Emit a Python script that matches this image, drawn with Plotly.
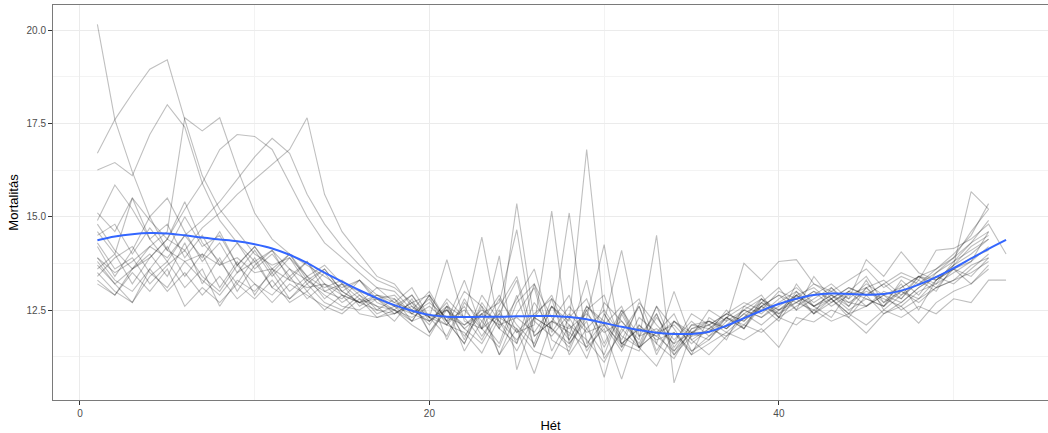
import plotly.graph_objects as go

# Weekly mortality (per 1000 per year) by week of year, one list per year
s01 = [20.15, 17.6, 16.2, 15.0, 14.1, 13.8, 14.0, 13.7, 13.9, 13.5, 13.6, 13.3, 13.1, 13.2, 12.9, 12.7, 12.8,
       12.9, 12.4, 12.8, 12.1, 12.6, 11.8, 12.5, 11.6, 12.7, 12.0, 11.5, 12.6, 12.1, 11.4, 12.3, 11.9, 11.3, 11.8,
       11.9, 12.5, 12.0, 12.8, 12.3, 13.0, 12.4, 13.1, 12.6, 13.3, 12.5, 12.9, 13.4, 13.1, 13.6, 13.4, 13.9]
s02 = [16.7, 17.6, 18.3, 18.95, 19.2, 17.6, 16.1, 15.2, 14.6, 14.0, 13.7, 13.9, 13.4, 13.1, 13.3, 12.9, 12.6,
       12.5, 12.9, 12.2, 12.7, 11.7, 12.9, 12.2, 11.4, 12.3, 12.9, 11.7, 12.5, 11.5, 12.4, 12.8, 11.6, 11.2, 12.0,
       12.1, 11.7, 12.6, 12.9, 12.3, 13.2, 12.6, 12.3, 13.0, 13.4, 12.7, 13.2, 12.5, 13.3, 13.6, 13.2, 13.7]
s03 = [16.25, 16.45, 16.1, 17.2, 18.0, 17.4, 15.9, 14.9, 14.3, 13.8, 14.1, 13.6, 13.3, 13.0, 13.2, 12.8, 12.6,
       12.2, 12.8, 11.9, 12.6, 12.0, 11.6, 12.4, 13.3, 11.5, 12.6, 12.1, 11.2, 12.4, 11.7, 12.6, 11.3, 12.2, 11.9,
       11.9, 12.3, 12.1, 12.6, 12.9, 12.5, 12.8, 13.1, 12.7, 12.6, 13.0, 12.8, 13.3, 13.0, 13.7, 14.2, 14.5]
s04 = [14.8, 14.1, 13.6, 14.2, 14.6, 17.65, 17.3, 17.65, 16.3, 15.1, 14.4, 14.0, 13.7, 13.4, 13.1, 13.3, 12.9,
       12.7, 13.1, 12.3, 11.8, 12.8, 12.0, 11.5, 12.7, 13.2, 11.7, 11.4, 12.5, 12.9, 11.6, 11.4, 12.4, 11.3, 12.0,
       12.2, 12.0, 12.5, 12.8, 12.4, 12.9, 13.1, 12.7, 13.0, 12.8, 12.6, 13.1, 13.4, 13.2, 13.8, 14.3, 14.9]
s05 = [15.1, 14.6, 15.5, 14.9, 14.4, 15.2, 15.9, 16.8, 17.2, 17.15, 16.8, 15.9, 15.0, 14.3, 13.9, 13.5, 13.1,
       13.0, 12.5, 13.0, 12.2, 13.3, 12.0, 12.8, 12.1, 11.6, 12.8, 12.3, 11.5, 12.7, 12.2, 11.6, 12.6, 11.5, 12.1,
       12.0, 12.4, 12.7, 12.5, 13.0, 12.8, 13.2, 12.9, 12.6, 13.1, 13.3, 12.9, 13.2, 13.6, 13.9, 14.6, 15.2]
s06 = [13.7, 13.2, 13.6, 13.9, 14.4, 14.1, 14.7, 15.1, 15.6, 16.0, 16.4, 16.8, 17.65, 15.6, 14.6, 14.0, 13.4,
       13.2, 12.6, 12.1, 12.8, 12.3, 11.7, 12.6, 13.4, 11.8, 12.2, 12.9, 11.4, 12.1, 12.6, 11.5, 11.9, 12.4, 11.4,
       11.7, 12.3, 12.0, 12.7, 13.1, 12.5, 13.4, 12.8, 12.4, 13.1, 12.6, 13.3, 12.9, 13.5, 13.8, 14.1, 14.4]
s07 = [13.9, 13.5, 13.8, 14.2, 13.9, 14.5, 14.9, 15.4, 16.0, 16.6, 17.1, 16.7, 15.6, 14.8, 14.2, 13.7, 13.3,
       13.1, 12.7, 12.9, 12.2, 11.6, 12.7, 12.0, 12.8, 13.6, 11.9, 12.6, 12.0, 11.3, 12.5, 11.8, 12.4, 11.4, 12.1,
       12.2, 11.9, 12.3, 12.8, 12.5, 12.7, 13.0, 12.6, 12.9, 13.1, 12.7, 13.0, 12.8, 13.3, 13.6, 13.8, 14.2]
s08 = [14.9, 15.85, 15.2, 14.4, 13.8, 14.5, 13.9, 14.6, 13.7, 14.2, 13.5, 14.0, 13.3, 13.6, 13.0, 13.3, 12.8,
       12.4, 12.7, 12.3, 12.5, 12.0, 12.4, 12.1, 12.3, 11.9, 12.6, 12.2, 16.8, 12.4, 11.6, 12.0, 11.8, 11.4, 11.9,
       12.1, 12.4, 12.2, 12.7, 12.5, 12.9, 12.6, 12.8, 13.1, 12.9, 13.2, 12.8, 13.4, 13.6, 14.0, 14.5, 15.35]
s09 = [14.2, 13.4, 14.1, 15.0, 15.5, 14.6, 13.8, 14.3, 13.5, 14.1, 13.4, 13.9, 13.2, 13.6, 13.0, 12.7, 13.1,
       12.7, 12.5, 12.2, 12.6, 12.3, 14.45, 12.0, 15.35, 12.2, 11.8, 12.4, 11.9, 12.1, 11.6, 12.0, 11.8, 12.2, 11.7,
       12.0, 12.3, 12.6, 12.4, 12.8, 13.1, 12.7, 13.0, 12.8, 13.2, 12.9, 13.1, 13.4, 13.3, 13.7, 15.67, 15.2]
s10 = [13.3, 12.9, 13.6, 14.0, 13.4, 14.3, 13.2, 13.9, 13.0, 13.7, 14.1, 13.3, 13.8, 13.0, 12.8, 13.3, 12.7,
       12.5, 12.3, 12.6, 12.2, 12.5, 12.0, 12.4, 11.9, 12.1, 15.15, 11.6, 12.3, 14.25, 11.5, 12.1, 11.7, 11.9, 11.4,
       11.8, 12.3, 12.0, 12.6, 12.2, 12.9, 12.4, 12.8, 12.3, 12.9, 12.4, 12.7, 13.1, 13.4, 13.6, 13.9, 14.1]
s11 = [13.8, 13.2, 12.7, 13.6, 14.2, 13.4, 14.0, 13.1, 13.8, 12.9, 13.6, 13.0, 13.4, 12.8, 13.2, 12.6, 12.9,
       12.6, 12.4, 12.7, 12.3, 12.1, 12.5, 12.2, 11.7, 12.3, 12.0, 15.1, 11.6, 12.2, 14.1, 11.8, 12.0, 11.6, 11.9,
       11.7, 12.2, 12.5, 12.3, 12.7, 13.0, 12.6, 12.9, 12.5, 12.8, 12.6, 13.0, 12.7, 13.1, 13.3, 13.7, 13.9]
s12 = [13.6, 14.0, 13.2, 13.9, 14.4, 15.4, 14.3, 13.8, 13.2, 13.9, 13.1, 13.6, 13.0, 13.5, 12.9, 12.7, 12.5,
       12.8, 12.4, 12.2, 12.5, 12.1, 12.4, 12.7, 14.65, 11.8, 12.2, 12.0, 12.4, 11.9, 12.2, 11.7, 14.5, 10.55, 11.9,
       12.2, 12.0, 12.4, 12.1, 12.5, 12.8, 12.4, 12.7, 13.0, 12.6, 12.9, 12.7, 13.1, 13.4, 13.2, 13.6, 14.0]
s13 = [14.3, 13.6, 13.9, 13.2, 13.7, 14.1, 13.4, 13.0, 13.7, 13.2, 12.9, 13.4, 12.8, 13.2, 12.7, 13.0, 12.5,
       12.4, 12.6, 12.3, 13.85, 12.2, 12.0, 13.95, 10.9, 12.3, 12.0, 11.6, 12.2, 10.7, 12.4, 11.5, 11.9, 12.1, 11.6,
       12.0, 11.8, 12.3, 12.6, 12.4, 12.7, 12.5, 12.8, 12.4, 12.6, 12.9, 12.5, 12.8, 13.1, 13.3, 13.5, 13.8]
s14 = [13.2, 12.9, 13.5, 13.0, 13.6, 12.6, 13.1, 12.7, 13.2, 12.8, 13.3, 12.7, 13.0, 12.5, 12.9, 12.4, 12.3,
       12.5, 12.2, 12.4, 12.1, 11.9, 11.35, 12.3, 12.0, 10.8, 12.2, 11.9, 11.5, 12.0, 10.65, 12.1, 11.6, 13.0, 11.7,
       11.3, 11.8, 12.1, 11.9, 12.3, 12.1, 12.5, 12.2, 12.4, 12.1, 12.5, 12.3, 12.6, 12.4, 12.8, 12.7, 13.3, 13.3]
s15 = [14.6, 14.0, 15.5, 14.4, 14.8, 13.9, 14.5, 13.7, 14.3, 13.6, 14.0, 13.4, 13.8, 13.2, 13.0, 12.7, 12.9,
       12.8, 12.2, 12.9, 11.7, 12.7, 12.2, 11.6, 12.9, 11.5, 12.6, 11.8, 13.3, 11.2, 11.9, 12.6, 11.4, 12.2, 11.8,
       12.5, 12.2, 13.75, 13.3, 13.8, 13.85, 13.2, 13.0, 13.3, 13.6, 13.1, 13.4, 13.2, 13.5, 13.9, 14.3, 14.6]
s16 = [13.5, 13.0, 12.7, 13.4, 13.8, 13.1, 13.6, 12.6, 13.3, 13.0, 13.5, 12.8, 13.2, 12.7, 12.5, 12.9, 12.4,
       12.6, 12.2, 12.9, 12.2, 11.6, 12.6, 11.3, 12.4, 13.1, 11.4, 12.3, 12.8, 11.6, 12.5, 11.5, 12.6, 12.0, 11.3,
       12.3, 12.0, 12.4, 12.7, 12.3, 12.6, 12.9, 13.2, 12.8, 13.85, 13.4, 14.06, 13.5, 13.3, 13.7, 14.0, 14.4]
s17 = [13.9, 13.3, 13.0, 13.6, 13.0, 13.5, 12.9, 13.4, 12.8, 13.2, 12.7, 13.2, 12.9, 12.6, 12.4, 12.8, 12.3,
       12.4, 12.7, 11.9, 12.5, 11.8, 12.4, 11.3, 12.0, 11.4, 11.2, 12.1, 11.7, 11.1, 12.0, 11.5, 11.0, 11.9, 11.3,
       11.6, 11.9, 11.7, 12.0, 11.5, 12.3, 12.18, 12.5, 12.3, 11.88, 12.4, 12.6, 12.15, 12.7, 13.0, 13.2, 13.6]
s18 = [14.5, 14.8, 14.0, 14.7, 14.1, 15.0, 14.2, 14.5, 13.7, 14.2, 13.6, 14.0, 13.4, 13.7, 13.2, 13.0, 12.8,
       12.6, 12.9, 12.3, 12.1, 13.0, 12.6, 12.0, 11.6, 13.2, 12.3, 11.7, 12.6, 12.2, 11.5, 12.7, 12.1, 11.6, 12.4,
       12.1, 12.4, 12.2, 12.6, 12.9, 12.7, 13.0, 12.8, 13.1, 12.9, 13.2, 13.5, 13.3, 14.1, 14.15, 14.4, 14.8, 14.0]
s19 = [13.4, 13.9, 14.2, 13.5, 13.1, 13.8, 13.3, 12.9, 13.5, 13.8, 13.1, 12.8, 13.3, 12.9, 12.6, 12.5, 12.8,
       12.5, 12.1, 11.8, 12.6, 11.4, 12.2, 12.9, 11.9, 12.4, 12.8, 11.3, 12.0, 12.5, 11.8, 11.5, 12.3, 11.7, 12.2,
       11.8, 12.1, 12.5, 12.3, 12.6, 12.9, 12.6, 12.9, 12.7, 13.0, 12.8, 12.6, 13.0, 13.2, 13.5, 13.8, 14.6]

yearly = [s01, s02, s03, s04, s05, s06, s07, s08, s09, s10,
          s11, s12, s13, s14, s15, s16, s17, s18, s19]

# Smoothed trend across all years, weeks 1..53
smooth = [14.37, 14.47, 14.53, 14.56, 14.55, 14.50, 14.44, 14.39, 14.34, 14.26,
          14.15, 13.98, 13.76, 13.50, 13.26, 13.03, 12.82, 12.63, 12.48, 12.37,
          12.32, 12.31, 12.32, 12.32, 12.33, 12.34, 12.34, 12.31, 12.25, 12.15,
          12.05, 11.96, 11.89, 11.86, 11.86, 11.92, 12.08, 12.28, 12.48, 12.66,
          12.80, 12.90, 12.94, 12.93, 12.91, 12.93, 13.02, 13.18, 13.38, 13.62,
          13.88, 14.14, 14.38]

x_ticks = [0, 20, 40]
x_minor = [10, 30, 50]
y_ticks = [12.5, 15.0, 17.5, 20.0]
y_tick_text = ["12.5", "15.0", "17.5", "20.0"]
y_minor = [11.25, 13.75, 16.25, 18.75]

fig = go.Figure()
for vals in yearly:
    fig.add_trace(go.Scatter(
        x=list(range(1, len(vals) + 1)), y=vals, mode="lines",
        line=dict(color="rgba(0,0,0,0.25)", width=1.1),
        hoverinfo="skip", showlegend=False))

fig.add_trace(go.Scatter(
    x=list(range(1, len(smooth) + 1)), y=smooth, mode="lines",
    line=dict(color="#3366FF", width=2, shape="spline"),
    showlegend=False))

axis_font = dict(family="Liberation Sans, Arial, sans-serif", size=10, color="#4d4d4d")
title_font = dict(family="Liberation Sans, Arial, sans-serif", size=13, color="black")

fig.update_layout(
    width=1048, height=433,
    margin=dict(l=53, r=0, t=5, b=33),
    paper_bgcolor="white", plot_bgcolor="white",
    xaxis=dict(
        range=[-1.54, 55.4], tickvals=x_ticks, ticktext=[str(v) for v in x_ticks],
        tickfont=axis_font, ticks="outside", ticklen=4, tickcolor="#333333",
        showgrid=True, gridcolor="#ebebeb", gridwidth=1,
        minor=dict(tickvals=x_minor, showgrid=True, gridcolor="#f3f3f3", gridwidth=0.6, ticks=""),
        showline=True, linecolor="#7a7a7a", linewidth=1, mirror=True,
        zeroline=False, automargin=False,
        title=dict(text="Hét", font=title_font, standoff=3),
    ),
    yaxis=dict(
        range=[10.09, 20.67], tickvals=y_ticks, ticktext=y_tick_text,
        tickfont=axis_font, ticks="outside", ticklen=4, tickcolor="#333333",
        showgrid=True, gridcolor="#ebebeb", gridwidth=1,
        minor=dict(tickvals=y_minor, showgrid=True, gridcolor="#f3f3f3", gridwidth=0.6, ticks=""),
        showline=True, linecolor="#7a7a7a", linewidth=1, mirror=False,
        zeroline=False, automargin=False,
        title=dict(text="Mortalitás", font=title_font, standoff=4),
    ),
)

fig.write_html("out.html")
